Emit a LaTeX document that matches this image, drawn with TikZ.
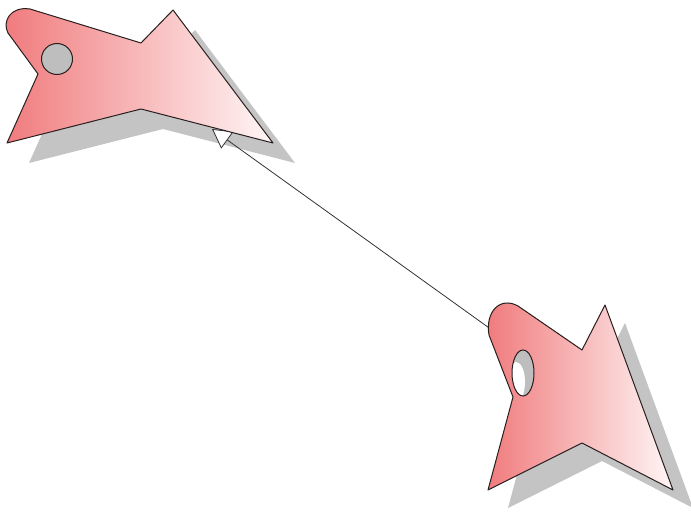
\documentclass[tikz,border=0pt]{standalone}
\usetikzlibrary{arrows.meta,shapes.geometric}
\definecolor{fishL}{RGB}{240,122,124}
\definecolor{fishR}{RGB}{255,246,246}
\definecolor{shadowc}{RGB}{196,196,196}
\definecolor{holec}{RGB}{190,190,190}
\definecolor{edgec}{RGB}{40,30,30}
\newcommand\fishOnePath{(38,74) -- (8,33) .. controls (2,22) and (10,6) .. (30,9) -- (141,43) -- (173,10) -- (273,143) -- (141,109) -- (7,143) -- cycle}
\newcommand\fishTwoPath{(513,397) -- (489,335) .. controls (485,312) and (500,296) .. (518,306) -- (582,350) -- (605,305) -- (673,490) -- (582,443) -- (488,490) -- cycle}
\tikzset{
  fishbody/.style={draw=edgec, line width=1pt, left color=fishL, right color=fishR, line join=round},
  fishshadow/.style={fill=shadowc},
  fishhole/.style={draw=edgec, line width=1pt, fill=holec},
  link/.style={draw=black!80, line width=0.8pt, -{Triangle[length=19pt,width=21pt,fill=white]}}
}
\begin{document}
\begin{tikzpicture}[x=1pt,y=-1pt]
\useasboundingbox (0,0) rectangle (691,513);
% shadows
\path[fishshadow, shift={(22,20)}] \fishOnePath;
\path[fishshadow, shift={(20,18)}] \fishTwoPath;
% connector
\coordinate (src) at (492,330);
\coordinate (dst) at (212,129);
\draw[link] (src) -- (dst);
% fish 1
\path[fishbody] \fishOnePath;
\node[fishhole, circle, minimum size=31pt, inner sep=0pt] (hole1) at (57,59) {};
% fish 2
\path[fishbody] \fishTwoPath;
\begin{scope}
  \clip (523,373) ellipse [x radius=11, y radius=23];
  \fill[holec] (523,373) ellipse [x radius=11, y radius=23];
  \fill[white] (516,382) ellipse [x radius=9, y radius=20];
\end{scope}
\node[draw=edgec, line width=1pt, ellipse, minimum width=22pt, minimum height=46pt, inner sep=0pt] (hole2) at (523,373) {};
\end{tikzpicture}
\end{document}
